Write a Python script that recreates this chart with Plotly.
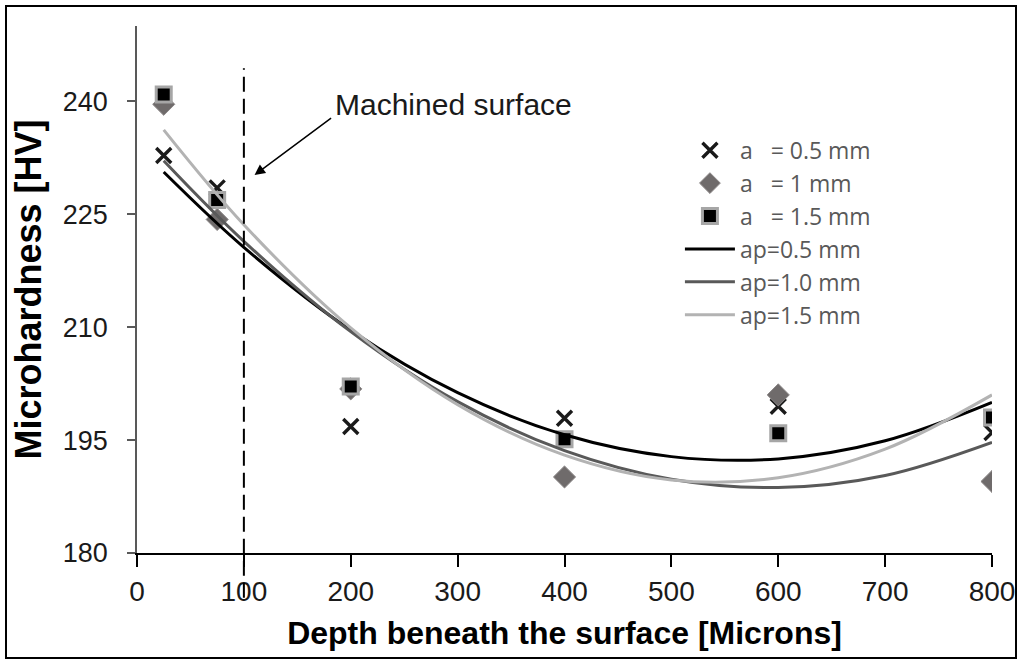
import plotly.graph_objects as go

# ---- data ----
depth = [25, 75, 200, 400, 600, 800]
hv_a05 = [232.8, 228.5, 196.8, 197.9, 199.5, 196.0]
hv_a10 = [239.6, 224.3, 201.8, 190.1, 201.0, 189.5]
hv_a15 = [240.9, 226.9, 202.1, 195.1, 195.9, 198.0]

trend_x = [25, 100, 200, 300, 400, 500, 600, 700, 800]
trend_ap05 = [230.6, 220.6, 209.6, 201.3, 195.7, 192.8, 192.5, 194.9, 200.0]
trend_ap10 = [232.1, 221.4, 209.4, 200.1, 193.6, 189.8, 188.7, 190.3, 194.7]
trend_ap15 = [236.2, 223.6, 209.9, 199.7, 193.0, 189.7, 190.0, 193.8, 201.0]

y_ticks = [180, 195, 210, 225, 240]
x_ticks = [0, 100, 200, 300, 400, 500, 600, 700, 800]

NB = "\u00a0"
fig = go.Figure()

fig.add_trace(go.Scatter(x=depth, y=hv_a05, mode="markers", name="a" + NB * 3 + "= 0.5 mm",
                         marker=dict(symbol="x-thin", size=15, line=dict(width=3.4, color="#1a1a1a"),
                                     color="#1a1a1a")))
fig.add_trace(go.Scatter(x=depth, y=hv_a10, mode="markers", name="a" + NB * 3 + "= 1 mm",
                         marker=dict(symbol="diamond", size=17, color="#6f6b6b",
                                     line=dict(width=1, color="#8a8686"))))
fig.add_trace(go.Scatter(x=depth, y=hv_a15, mode="markers", name="a" + NB * 3 + "= 1.5 mm",
                         marker=dict(symbol="square", size=15, color="#000000",
                                     line=dict(width=3, color="#a6a6a6"))))

fig.add_trace(go.Scatter(x=trend_x, y=trend_ap05, mode="lines", name="ap=0.5 mm",
                         line=dict(color="#000000", width=3, shape="spline")))
fig.add_trace(go.Scatter(x=trend_x, y=trend_ap10, mode="lines", name="ap=1.0 mm",
                         line=dict(color="#595959", width=3, shape="spline")))
fig.add_trace(go.Scatter(x=trend_x, y=trend_ap15, mode="lines", name="ap=1.5 mm",
                         line=dict(color="#b3b3b3", width=3, shape="spline")))

# dashed vertical line at the machined surface
fig.add_shape(type="line", xref="x", yref="paper", x0=100, x1=100, y0=-0.085, y1=0.92,
              line=dict(color="#000000", width=2, dash="15px,7px"))

# outer frame
fig.add_shape(type="rect", xref="paper", yref="paper",
              x0=(6 - 137) / 855, x1=(1016 - 137) / 855,
              y0=(553 - 658) / 527, y1=(553 - 6) / 527,
              line=dict(color="#000000", width=2), fillcolor="rgba(0,0,0,0)")

fig.add_annotation(x=110, y=230.2, ax=183, ay=237.9, xref="x", yref="y", axref="x", ayref="y",
                   text="", showarrow=True, arrowhead=2, arrowsize=1.4, arrowwidth=1.5,
                   arrowcolor="#000000")
fig.add_annotation(x=296, y=239.6, xref="x", yref="y", text="Machined surface", showarrow=False,
                   font=dict(family="Liberation Sans, Arial", size=30, color="#1a1a1a"))

fig.update_layout(
    width=1022, height=664,
    margin=dict(l=137, r=30, t=26, b=111, autoexpand=False),
    paper_bgcolor="white", plot_bgcolor="white",
    showlegend=True,
    legend=dict(x=0.635, y=0.805, xanchor="left", yanchor="top",
                font=dict(family="Open Sans", size=23, color="#595959"),
                bgcolor="rgba(0,0,0,0)", itemwidth=50, tracegroupgap=0),
    xaxis=dict(range=[0, 800], tickvals=x_ticks, showgrid=False, zeroline=False, automargin=False,
               showline=True, linecolor="#000000", linewidth=2,
               ticks="outside", ticklen=12, tickwidth=2, tickcolor="#000000",
               tickfont=dict(family="Liberation Sans, Arial", size=28, color="#1a1a1a"),
               title=dict(text="<b>Depth beneath the surface [Microns]</b>", standoff=16,
                          font=dict(family="Liberation Sans, Arial", size=32, color="#000000"))),
    yaxis=dict(range=[180, 250], tickvals=y_ticks, showgrid=False, zeroline=False, automargin=False,
               showline=True, linecolor="#595959", linewidth=1.5,
               ticks="outside", ticklen=8, tickwidth=1.5, tickcolor="#595959",
               ticklabelstandoff=14,
               tickfont=dict(family="Liberation Sans, Arial", size=27, color="#1a1a1a"),
               title=dict(text="<b>Microhardness [HV]</b>", standoff=10,
                          font=dict(family="Liberation Sans, Arial", size=36, color="#000000"))),
)

fig.write_html("out.html")
